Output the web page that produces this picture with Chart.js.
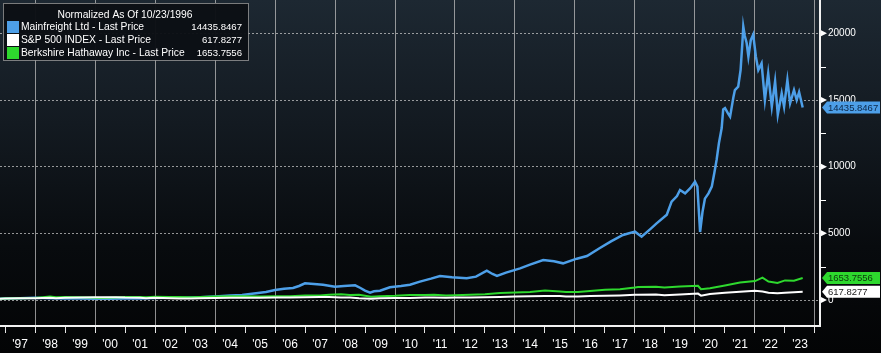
<!DOCTYPE html>
<html>
<head>
<meta charset="utf-8">
<script src="https://cdn.jsdelivr.net/npm/chart.js@4.4.0/dist/chart.umd.min.js"></script>
<style>
  html, body { margin: 0; padding: 0; background: #000; }
  #wrap {
    width: 881px; height: 353px;
    background: linear-gradient(to bottom, #1d2832 0%, #131a21 35%, #080b0e 70%, #030405 100%);
  }
  canvas { display: block; }
</style>
</head>
<body>
<div id="wrap"><canvas id="myChart" width="881" height="353"></canvas></div>
<script>
// series names + last values (legend & right tags)
const seriesNames = ["Mainfreight Ltd - Last Price", "S&P 500 INDEX - Last Price", "Berkshire Hathaway Inc - Last Price"];
const lastValues = ["14435.8467", "617.8277", "1653.7556"];
const legendTitle = "Normalized As Of 10/23/1996";

// Mainfreight (dates as decimal years)
const mfDates = [1996.81, 1997.0, 1997.5, 1998.0, 1998.5, 1999.0, 1999.5, 2000.0, 2000.5, 2001.0, 2001.5,
  2002.0, 2002.5, 2003.0, 2003.5, 2004.0, 2004.5, 2004.9, 2005.3, 2005.7, 2006.0, 2006.3, 2006.6, 2006.8,
  2007.0, 2007.3, 2007.6, 2008.0, 2008.3, 2008.67, 2008.85, 2009.0, 2009.17, 2009.3, 2009.5, 2009.83,
  2010.2, 2010.5, 2010.83, 2011.2, 2011.5, 2011.9, 2012.39, 2012.7, 2013.06, 2013.25, 2013.4, 2013.7,
  2014.17, 2014.5, 2014.94, 2015.3, 2015.6, 2016.06, 2016.4, 2016.83, 2017.2, 2017.6, 2018.0, 2018.22,
  2018.5, 2018.72, 2019.06, 2019.22, 2019.4, 2019.5, 2019.67, 2019.85, 2020.0, 2020.08, 2020.17, 2020.25,
  2020.33, 2020.45, 2020.56, 2020.65, 2020.72, 2020.8, 2020.89, 2020.94, 2021.0, 2021.1, 2021.17, 2021.28,
  2021.33, 2021.44, 2021.52, 2021.58, 2021.61, 2021.66, 2021.72, 2021.78, 2021.86, 2021.94, 2022.03,
  2022.11, 2022.22, 2022.33, 2022.44, 2022.56, 2022.67, 2022.76, 2022.89, 2022.97, 2023.08, 2023.17,
  2023.3, 2023.39, 2023.47, 2023.59];
const mfValues = [100, 110, 140, 160, 130, 110, 120, 100, 90, 110, 120,
  150, 170, 170, 210, 260, 330, 380, 480, 600, 750, 850, 900, 1050,
  1250, 1200, 1150, 1000, 1050, 1100, 900, 700, 550, 650, 700, 950,
  1050, 1150, 1375, 1600, 1800, 1700, 1625, 1750, 2200, 1950, 1800, 2050,
  2375, 2650, 3000, 2900, 2750, 3100, 3300, 3900, 4400, 4875, 5125, 4750,
  5300, 5750, 6400, 7375, 7800, 8250, 8000, 8400, 8875, 8500, 5100, 6600,
  7600, 8000, 8500, 9600, 10500, 11800, 12900, 14300, 14400, 14000, 13750, 15200,
  15750, 16000, 17250, 19300, 20500, 19800, 19300, 18250, 19500, 19900, 18250,
  17250, 17750, 15000, 17000, 14500, 16400, 13900, 15500, 14500, 16500, 14750,
  15750, 15000, 15600, 14435.85];

// S&P 500 and Berkshire share the same dates
const idxDates = [1996.81, 1997.0, 1997.5, 1998.0, 1998.5, 1998.7, 1999.0, 1999.5, 2000.0, 2000.2, 2000.7,
  2001.0, 2001.5, 2001.7, 2002.0, 2002.5, 2002.8, 2003.2, 2003.5, 2004.0, 2004.5, 2005.0, 2005.5, 2006.0,
  2006.5, 2007.0, 2007.5, 2007.8, 2008.2, 2008.5, 2008.8, 2009.2, 2009.5, 2010.0, 2010.5, 2011.0, 2011.3,
  2011.7, 2012.0, 2012.5, 2013.0, 2013.5, 2014.0, 2014.5, 2015.0, 2015.5, 2015.7, 2016.1, 2016.5, 2017.0,
  2017.5, 2018.0, 2018.1, 2018.7, 2018.98, 2019.5, 2020.1, 2020.2, 2020.5, 2021.0, 2021.5, 2022.0,
  2022.25, 2022.45, 2022.75, 2023.0, 2023.3, 2023.59];
const spValues = [100, 106, 129, 140, 163, 140, 176, 196, 209, 214, 209,
  187, 176, 139, 164, 140, 114, 116, 140, 159, 161, 170, 171, 180,
  181, 203, 216, 220, 189, 183, 129, 97, 131, 159, 146, 181, 194,
  166, 181, 193, 211, 229, 263, 281, 293, 300, 271, 270, 300, 323,
  346, 386, 394, 417, 357, 420, 481, 327, 443, 536, 614, 686,
  643, 543, 514, 549, 586, 617.83];
const brkValues = [100, 107, 135, 145, 255, 200, 220, 215, 176, 142, 190,
  223, 220, 211, 236, 224, 230, 205, 227, 265, 280, 277, 265, 280,
  287, 346, 343, 390, 425, 378, 394, 246, 280, 312, 378, 378, 394,
  331, 362, 394, 425, 520, 560, 600, 710, 630, 600, 600, 680, 770,
  800, 935, 980, 990, 940, 1005, 1070, 810, 880, 1095, 1310, 1420,
  1680, 1380, 1270, 1470, 1450, 1653.76];

// axis ticks
const yearTicks = [];
for (let y = 1997; y <= 2024; y++) yearTicks.push(y);
const yearLabels = ["'97", "'98", "'99", "'00", "'01", "'02", "'03", "'04", "'05", "'06", "'07", "'08", "'09",
  "'10", "'11", "'12", "'13", "'14", "'15", "'16", "'17", "'18", "'19", "'20", "'21", "'22", "'23", ""];
const yTicks = [0, 5000, 10000, 15000, 20000];
const yMinorTicks = [2500, 7500, 12500, 17500];

const lineColors = ["#4d9fe8", "#ffffff", "#2ed82e"];
const tagText = ["#0c2747", "#222222", "#0b3a0b"];
const FONT = "'Liberation Sans', Arial, sans-serif";

function pts(dates, vals) {
  return dates.map((d, i) => ({ x: d, y: vals[i] }));
}

// right side marks: triangles at major ticks, small lines at minor ticks
const axisMarks = {
  id: 'axisMarks',
  afterDraw(chart) {
    const ctx = chart.ctx;
    const ys = chart.scales.y;
    const x0 = chart.chartArea.right + 1;
    ctx.save();
    ctx.fillStyle = '#ffffff';
    ctx.strokeStyle = '#ffffff';
    ctx.lineWidth = 1;
    yTicks.forEach(v => {
      const y = ys.getPixelForValue(v);
      ctx.beginPath();
      ctx.moveTo(x0, y - 3);
      ctx.lineTo(x0 + 6, y);
      ctx.lineTo(x0, y + 3);
      ctx.closePath();
      ctx.fill();
    });
    yMinorTicks.forEach(v => {
      const y = Math.round(ys.getPixelForValue(v)) + 0.5;
      ctx.beginPath();
      ctx.moveTo(x0, y);
      ctx.lineTo(x0 + 5, y);
      ctx.stroke();
    });
    ctx.restore();
  }
};

// last value tags on the right
const valueTags = {
  id: 'valueTags',
  afterDraw(chart) {
    const ctx = chart.ctx;
    const ys = chart.scales.y;
    const left = chart.chartArea.right + 2;
    ctx.save();
    ctx.font = '9.5px ' + FONT;
    ctx.textBaseline = 'middle';
    chart.data.datasets.forEach((ds, i) => {
      const last = ds.data[ds.data.length - 1].y;
      const y = ys.getPixelForValue(last);
      const h = 12;
      ctx.fillStyle = lineColors[i];
      ctx.beginPath();
      ctx.moveTo(left, y);
      ctx.lineTo(left + 5, y - h / 2);
      ctx.lineTo(880, y - h / 2);
      ctx.lineTo(880, y + h / 2);
      ctx.lineTo(left + 5, y + h / 2);
      ctx.closePath();
      ctx.fill();
      ctx.fillStyle = tagText[i];
      ctx.fillText(lastValues[i], left + 6, y + 0.5);
    });
    ctx.restore();
  }
};

// legend box in the top left corner
const legendBox = {
  id: 'legendBox',
  afterDraw(chart) {
    const ctx = chart.ctx;
    ctx.save();
    ctx.fillStyle = 'rgba(12,16,21,0.97)';
    ctx.fillRect(3, 3, 245, 57);
    ctx.strokeStyle = 'rgba(150,150,150,0.8)';
    ctx.lineWidth = 1;
    ctx.strokeRect(3.5, 3.5, 245, 57);
    ctx.fillStyle = '#ffffff';
    ctx.font = '10.3px ' + FONT;
    ctx.textBaseline = 'middle';
    ctx.textAlign = 'center';
    ctx.fillText(legendTitle, 125, 15);
    seriesNames.forEach((name, i) => {
      const y = 27 + i * 13;
      ctx.fillStyle = lineColors[i];
      ctx.fillRect(7, y - 6, 12, 12);
      ctx.fillStyle = '#ffffff';
      ctx.font = '10.3px ' + FONT;
      ctx.textAlign = 'left';
      ctx.fillText(name, 21, y);
      ctx.font = '9.6px ' + FONT;
      ctx.textAlign = 'right';
      ctx.fillText(lastValues[i], 242, y);
    });
    ctx.restore();
  }
};

const ctx = document.getElementById('myChart').getContext('2d');
const myChart = new Chart(ctx, {
  type: 'line',
  data: {
    datasets: [
      { label: seriesNames[0], data: pts(mfDates, mfValues), borderColor: lineColors[0], borderWidth: 2.5, order: 3 },
      { label: seriesNames[1], data: pts(idxDates, spValues), borderColor: lineColors[1], borderWidth: 2, order: 1 },
      { label: seriesNames[2], data: pts(idxDates, brkValues), borderColor: lineColors[2], borderWidth: 2, order: 2 }
    ]
  },
  options: {
    responsive: false,
    animation: false,
    devicePixelRatio: 1,
    layout: { padding: 0 },
    elements: { point: { radius: 0 }, line: { tension: 0 } },
    plugins: { legend: { display: false }, tooltip: { enabled: false } },
    scales: {
      x: {
        type: 'linear',
        min: 1996.833,
        max: 2024.167,
        afterBuildTicks: s => { s.ticks = yearTicks.map(v => ({ value: v })); },
        afterFit: s => { s.height = 27; s.paddingLeft = 0; s.paddingRight = 0; },
        grid: {
          color: c => (c.tick && c.tick.value % 2 === 0) ? 'rgba(190,190,190,0.75)' : 'rgba(0,0,0,0)',
          tickColor: '#e6e6e6',
          tickLength: 7,
          lineWidth: 1
        },
        border: { color: '#f2f2f2', width: 2 },
        ticks: {
          color: '#ffffff',
          font: { size: 12, family: FONT },
          labelOffset: 15,
          padding: 4,
          maxRotation: 0,
          autoSkip: false,
          callback: (v, i) => yearLabels[i]
        }
      },
      y: {
        position: 'right',
        min: -1950,
        max: 22500,
        afterBuildTicks: s => { s.ticks = yTicks.map(v => ({ value: v })); },
        afterFit: s => { s.width = 61; s.paddingTop = 0; s.paddingBottom = 0; },
        grid: { color: 'rgba(210,210,210,0.7)', drawTicks: false, lineWidth: 1 },
        border: { color: '#f2f2f2', width: 2, dash: [2, 2] },
        ticks: {
          color: '#ffffff',
          font: { size: 10, family: FONT },
          padding: 8,
          callback: v => String(v)
        }
      }
    }
  },
  plugins: [axisMarks, valueTags, legendBox]
});
</script>
</body>
</html>
